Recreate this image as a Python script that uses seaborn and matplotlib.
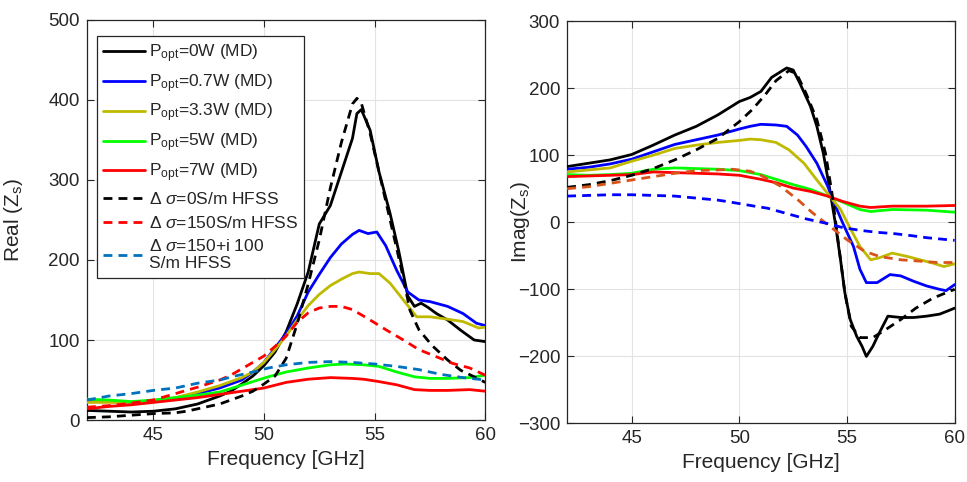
import numpy as np
import pandas as pd
import matplotlib
matplotlib.use("Agg")
import matplotlib.pyplot as plt
import seaborn as sns

# ---------------- data: Real(Zs) ----------------
re_f_0w = [42, 43, 44, 45, 46, 47, 48, 48.5, 49, 49.5, 50, 50.5, 51, 51.5, 52, 52.5, 53, 53.5, 54, 54.2, 54.4,
           54.8, 55.2, 55.7, 56.1, 56.5, 56.8, 57.1, 57.4, 57.8, 58.3, 58.9, 59.5, 60]
re_v_0w = [12, 11, 10, 11, 14, 20, 30, 36, 45, 55, 68, 85, 110, 145, 185, 245, 268, 310, 352, 383, 388,
           362, 310, 258, 210, 155, 142, 146, 141, 133, 125, 112, 100, 98]

re_f_07w = [42, 43, 44, 45, 46, 47, 48, 49, 49.5, 50, 50.5, 51, 51.5, 52, 52.5, 53, 53.5, 54, 54.3, 54.7, 55.1,
            55.5, 56, 56.5, 57, 57.5, 58.3, 59, 59.6, 60]
re_v_07w = [24, 23, 22, 23, 27, 33, 40, 50, 60, 72, 90, 108, 130, 160, 182, 203, 220, 232, 237, 233, 235,
            218, 187, 160, 150, 148, 142, 133, 121, 118]

re_f_33w = [42, 43, 44, 45, 46, 47, 48, 49, 49.5, 50, 50.5, 51, 51.5, 52, 52.5, 53, 53.5, 54, 54.3, 54.8, 55.2,
            55.7, 56.3, 56.9, 57.5, 58.3, 59, 59.7, 60]
re_v_33w = [22, 22, 22, 24, 28, 35, 43, 53, 60, 72, 88, 105, 125, 143, 157, 168, 176, 183, 185, 183, 183,
            171, 150, 129, 129, 126, 123, 115, 116]

re_f_5w = [42, 43, 44, 45, 46, 47, 48, 48.7, 49.5, 50.2, 51, 52, 53, 53.7, 54.5, 55.2, 56, 56.8, 57.5, 58.3,
           59.3, 60]
re_v_5w = [26, 25, 23, 25, 28, 31, 35, 41, 48, 54, 60, 65, 69, 70, 69, 67, 60, 54, 52, 52, 53, 56]

re_f_7w = [42, 43, 44, 45, 46, 47, 48, 49, 50, 51, 52, 53, 54, 54.5, 55.2, 56, 56.8, 57.5, 58.3, 59.3, 60]
re_v_7w = [14, 17, 19, 22, 25, 28, 32, 36, 40, 47, 51, 53, 52, 51, 48, 44, 38, 37, 37, 38, 36]

re_f_h0 = [42, 43, 44, 45, 46, 46.5, 47, 48, 48.5, 49, 49.5, 50, 50.5, 51, 51.5, 52, 52.5, 53, 53.5, 54, 54.2,
           54.4, 54.8, 55.2, 55.7, 56.2, 56.6, 57, 57.6, 58.3, 58.9, 59.5, 60]
re_v_h0 = [3, 4, 6, 8, 9, 11, 14, 20, 25, 30, 36, 45, 55, 77, 120, 170, 225, 290, 347, 395, 402,
           396, 358, 310, 250, 190, 137, 113, 93, 75, 62, 54, 47]

re_f_h150 = [42, 43, 44, 45, 46, 47, 48, 48.5, 49, 49.5, 50, 50.5, 51, 51.5, 52, 52.5, 53, 53.5, 54, 54.8,
             55.5, 56.3, 57, 57.8, 58.5, 59.3, 60]
re_v_h150 = [16, 18, 21, 25, 33, 41, 50, 56, 64, 72, 80, 92, 105, 122, 134, 140, 142, 142, 138, 125,
             113, 100, 88, 79, 71, 65, 56]

re_f_h150i = [42, 43, 44, 45, 46, 47, 48, 48.7, 49.5, 50.2, 51, 52, 53, 54, 55, 56, 57, 58, 59, 60]
re_v_h150i = [25, 30, 33, 37, 40, 46, 50, 55, 60, 65, 69, 72, 73, 72, 70, 67, 63, 57, 53, 50]

# ---------------- data: Imag(Zs) ----------------
im_f_0w = [42, 43, 44, 45, 46, 47, 48, 49, 50, 50.5, 51, 51.5, 52, 52.2, 52.5, 52.8, 53.3, 53.6, 53.9, 54.2,
           54.45, 54.7, 54.9, 55.15, 55.45, 55.7, 55.9, 56.2, 56.5, 56.9, 57.5, 58.1, 58.7, 59.3, 59.7, 60]
im_v_0w = [83, 88, 93, 101, 115, 130, 143, 160, 180, 186, 195, 216, 226, 230, 227, 208, 173, 143, 103, 49,
           0, -56, -105, -145, -170, -185, -200, -185, -165, -140, -142, -142, -140, -137, -132, -128]

im_f_07w = [42, 43, 44, 45, 46, 47, 48, 49, 50, 50.5, 51, 51.7, 52.2, 52.7, 53.1, 53.6, 54.1, 54.4, 54.8, 55.3,
            55.6, 55.9, 56.4, 57, 57.5, 58.1, 58.7, 59.3, 59.6, 60]
im_v_07w = [79, 82, 87, 94, 105, 116, 123, 130, 139, 143, 146, 145, 143, 130, 113, 88, 54, 29, -1, -36,
            -70, -90, -90, -78, -80, -88, -95, -100, -102, -93]

im_f_33w = [42, 43, 44, 45, 46, 47, 48, 49, 50, 50.5, 51, 51.7, 52.3, 53, 53.6, 54.2, 54.7, 55.1, 55.6, 56.1,
            56.5, 57.1, 57.8, 58.4, 59, 59.5, 60]
im_v_33w = [75, 78, 81, 91, 100, 110, 115, 119, 122, 124, 123, 119, 108, 88, 63, 39, 19, -6, -36, -56,
            -53, -46, -51, -56, -61, -66, -62]

im_f_5w = [42, 43, 44, 45, 46, 47, 48, 49, 50, 50.5, 51, 51.7, 52.5, 53.3, 54.1, 54.8, 55.6, 56.1, 57.1,
           58.7, 60]
im_v_5w = [71, 70, 71, 73, 79, 81, 80, 79, 77, 74, 71, 64, 56, 49, 39, 30, 19, 16, 19, 18, 15]

im_f_7w = [42, 43, 44, 45, 46, 47, 48, 49, 50, 50.5, 51, 51.7, 52.5, 53.3, 54.1, 54.8, 55.6, 56.1, 57.1,
           58.7, 60]
im_v_7w = [68, 69, 70, 71, 75, 74, 73, 72, 70, 67, 64, 59, 51, 46, 39, 31, 24, 22, 24, 24, 25]

im_f_h0 = [42, 43, 44, 45, 46, 47, 48, 49, 50, 50.6, 51.2, 51.7, 52.3, 52.65, 53.1, 53.6, 54, 54.3, 54.6,
           54.9, 55.2, 55.6, 56.2, 56.8, 57.5, 58.2, 59, 60]
im_v_h0 = [52, 56, 62, 70, 80, 93, 108, 125, 150, 168, 190, 211, 226, 222, 192, 153, 103, 44, -31,
           -105, -155, -172, -172, -160, -145, -128, -113, -100]

im_f_h150 = [42, 43, 44, 45, 46, 47, 48, 49, 49.7, 50.5, 51, 51.9, 52.7, 53.4, 54.2, 55, 55.8, 56.5, 57.5,
             58.4, 59.2, 60]
im_v_h150 = [50, 53, 58, 63, 68, 73, 77, 78, 79, 76, 70, 54, 34, 14, -6, -26, -43, -51, -56,
             -58, -60, -60]

im_f_h150i = [42, 43, 44, 45, 46, 47, 48, 49, 49.6, 50.7, 51.3, 52.2, 53.1, 54.1, 54.8, 55.6, 56.4, 57.2,
              58, 58.7, 60]
im_v_h150i = [39, 40, 41, 41, 40, 39, 36, 33, 30, 24, 21, 13, 5, -2, -8, -12, -15, -17,
              -20, -23, -27]

labels = [r"P$_{\mathrm{opt}}$=0W (MD)", r"P$_{\mathrm{opt}}$=0.7W (MD)", r"P$_{\mathrm{opt}}$=3.3W (MD)",
          r"P$_{\mathrm{opt}}$=5W (MD)", r"P$_{\mathrm{opt}}$=7W (MD)",
          r"$\Delta$ $\sigma$=0S/m HFSS", r"$\Delta$ $\sigma$=150S/m HFSS",
          "$\\Delta$ $\\sigma$=150+i 100\nS/m HFSS"]

x_ticks = [45, 50, 55, 60]
re_ticks = [0, 100, 200, 300, 400, 500]
im_ticks = [-300, -200, -100, 0, 100, 200, 300]

# ---------------- style ----------------
sns.set_theme(style="whitegrid")
plt.rcParams["font.family"] = ["Liberation Sans", "DejaVu Sans"]
plt.rcParams["mathtext.fontset"] = "custom"
plt.rcParams["mathtext.rm"] = "Liberation Sans"
plt.rcParams["mathtext.it"] = "Liberation Sans:italic"
plt.rcParams["mathtext.bf"] = "Liberation Sans:bold"

fig = plt.figure(figsize=(9.67, 4.82), dpi=100)
axL = fig.add_axes([0.0899, 0.1286, 0.4119, 0.830])
axR = fig.add_axes([0.5865, 0.1214, 0.4007, 0.835])

LW = 2.0
yel = "#BFBA00"
sets_L = [
    (re_f_0w, re_v_0w, "black", "-"),
    (re_f_07w, re_v_07w, "#0000FF", "-"),
    (re_f_33w, re_v_33w, yel, "-"),
    (re_f_5w, re_v_5w, "#00FF00", "-"),
    (re_f_7w, re_v_7w, "#FF0000", "-"),
    (re_f_h0, re_v_h0, "black", "--"),
    (re_f_h150, re_v_h150, "#FF0000", "--"),
    (re_f_h150i, re_v_h150i, "#0072BD", "--"),
]
sets_R = [
    (im_f_0w, im_v_0w, "black", "-"),
    (im_f_07w, im_v_07w, "#0000FF", "-"),
    (im_f_33w, im_v_33w, yel, "-"),
    (im_f_5w, im_v_5w, "#00FF00", "-"),
    (im_f_7w, im_v_7w, "#FF0000", "-"),
    (im_f_h0, im_v_h0, "black", "--"),
    (im_f_h150, im_v_h150, "#D95319", "--"),
    (im_f_h150i, im_v_h150i, "#0000FF", "--"),
]

for ax, sets in ((axL, sets_L), (axR, sets_R)):
    for i, (f, v, c, ls) in enumerate(sets):
        df = pd.DataFrame({"f": f, "v": v})
        sns.lineplot(data=df, x="f", y="v", ax=ax, color=c, linewidth=LW, sort=False,
                     estimator=None, label=labels[i], legend=False, zorder=3 + i)
        ax.lines[-1].set_linestyle(ls)
        if ls == "--":
            ax.lines[-1].set_dashes((3.2, 2.2))

def style_axes(ax, yticks, ylim, ylabel):
    ax.set_xlim(42, 60)
    ax.set_ylim(*ylim)
    ax.set_xticks(x_ticks)
    ax.set_yticks(yticks)
    ax.set_xlabel("Frequency [GHz]", fontsize=15, color="#262626", labelpad=4)
    ax.set_ylabel(ylabel, fontsize=15, color="#262626", labelpad=2)
    ax.tick_params(axis="both", which="both", direction="in", length=5, width=0.8,
                   labelsize=13.5, colors="#262626", top=True, right=True,
                   bottom=True, left=True, pad=5)
    ax.grid(True, color="#E3E3E3", linewidth=0.8)
    ax.set_facecolor("white")
    for s in ax.spines.values():
        s.set_color("#262626")
        s.set_linewidth(0.9)
        s.set_visible(True)

style_axes(axL, re_ticks, (0, 500), r"Real (Z$_{\mathrm{s}}$)")
style_axes(axR, im_ticks, (-300, 300), r"Imag(Z$_{\mathrm{s}}$)")
axL.yaxis.set_label_coords(-0.155, 0.5)
axR.yaxis.set_label_coords(-0.09, 0.5)

handles = axL.lines[:8]
leg = axL.legend(handles, labels, loc="upper left", bbox_to_anchor=(0.025, 0.96),
                 borderaxespad=0, fontsize=12.5, frameon=True, fancybox=False,
                 framealpha=1, edgecolor="#262626", handlelength=2.4, handletextpad=0.25,
                 borderpad=0.35, labelspacing=0.42)
leg.get_frame().set_linewidth(0.9)
leg.set_zorder(20)

fig.savefig("out.png", dpi=100)
